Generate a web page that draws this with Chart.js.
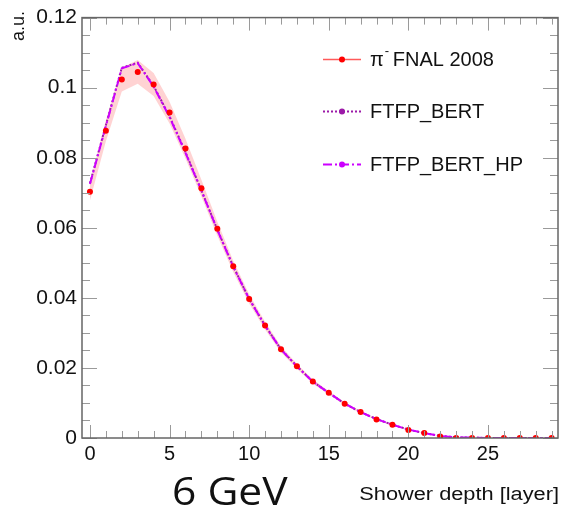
<!DOCTYPE html>
<html><head><meta charset="utf-8">
<script src="https://cdn.jsdelivr.net/npm/chart.js@4.4.1/dist/chart.umd.min.js"></script>
<style>html,body{margin:0;padding:0;background:#fff}canvas{display:block}</style>
</head><body>
<canvas id="c" width="562" height="512"></canvas>
<script>
// ---- data ----
const layers = [0,1,2,3,4,5,6,7,8,9,10,11,12,13,14,15,16,17,18,19,20,21,22,23,24,25,26,27,28,29];
const fnal2008 = [0.0703,0.0877,0.1023,0.1045,0.1009,0.0929,0.0826,0.0713,0.0597,0.0490,0.0397,0.0321,0.0253,0.0205,0.0161,0.0129,0.0098,0.0074,0.0053,0.0038,0.0023,0.0014,0.0004,0,0,0,0,0,0,0];
const fnalErr  = [0.0025,0.0030,0.0034,0.0034,0.0033,0.0031,0.0028,0.0024,0.0020,0.0016,0.0013,0.0011,0.0009,0.0007,0.0006,0.0005,0.0004,0.0003,0.0002,0.0002,0.0001,0.0001,0,0,0,0,0,0,0,0];
const ftfpBert   = [0.0727,0.0893,0.1057,0.1071,0.1005,0.0918,0.0816,0.0707,0.0595,0.0490,0.0397,0.0321,0.0253,0.0205,0.0161,0.0129,0.0098,0.0074,0.0054,0.0038,0.0024,0.0014,0.0006,0.0002,0.0001,0,0,0,0,0];
const ftfpBertHp = [0.0725,0.0890,0.1055,0.1070,0.1003,0.0916,0.0814,0.0706,0.0594,0.0489,0.0397,0.0320,0.0253,0.0204,0.0161,0.0129,0.0098,0.0074,0.0054,0.0038,0.0024,0.0014,0.0006,0.0002,0.0001,0,0,0,0,0];
const xTickValues = [0,5,10,15,20,25];
const yTickValues = [0,0.02,0.04,0.06,0.08,0.1,0.12];
const seriesNames = ['FNAL 2008','FTFP_BERT','FTFP_BERT_HP'];
const xTitle = 'Shower depth [layer]';
const yTitle = 'a.u.';
const energyLabel = '6 GeV';

const pts = arr => layers.map((l,i)=>({x:l, y:arr[i]}));

const frame = {
  id:'frame',
  afterDatasetsDraw(chart){
    const {ctx, chartArea:a, scales:{x,y}} = chart;
    ctx.save();
    ctx.strokeStyle='#9a9a9a'; ctx.lineWidth=1;
    ctx.beginPath();
    for (let v=0; v<=29; v++){
      const px=Math.round(x.getPixelForValue(v))+0.5; const L=(v%5===0)?13:7;
      ctx.moveTo(px,a.bottom); ctx.lineTo(px,a.bottom-L);
      ctx.moveTo(px,a.top); ctx.lineTo(px,a.top+L);
    }
    for (let i=0;i<=24;i++){
      const py=Math.round(y.getPixelForValue(i*0.005))+0.5; const L=(i%4===0)?15:8;
      ctx.moveTo(a.left,py); ctx.lineTo(a.left+L,py);
      ctx.moveTo(a.right,py); ctx.lineTo(a.right-L,py);
    }
    ctx.stroke();
    ctx.strokeStyle='#666'; ctx.lineWidth=1.5;
    ctx.strokeRect(a.left,a.top,a.right-a.left,a.bottom-a.top);
    ctx.restore();
  },
  afterDraw(chart){
    const ctx=chart.ctx; const ds=chart.data.datasets;
    ctx.save();
    ctx.shadowColor='transparent'; ctx.shadowBlur=0; ctx.globalAlpha=1;
    // legend
    const rows=[59,111,164]; const lx0=323, lx1=361, tx=370;
    const entries=[ds[4],ds[2],ds[3]];
    entries.forEach((d,i)=>{
      const yy=rows[i];
      ctx.save();
      ctx.lineCap='butt';
      ctx.strokeStyle = i===0 ? 'rgb(255,90,90)' : d.borderColor;
      ctx.lineWidth = i===0 ? 1.5 : 2;
      ctx.setLineDash(i===0 ? [] : d.borderDash);
      ctx.beginPath(); ctx.moveTo(lx0,yy+0.5); ctx.lineTo(lx1,yy+0.5); ctx.stroke();
      ctx.setLineDash([]);
      ctx.fillStyle = i===0 ? '#ff0000' : d.borderColor;
      ctx.beginPath(); ctx.arc((lx0+lx1)/2,yy+0.5,3,0,Math.PI*2); ctx.fill();
      ctx.restore();
      ctx.fillStyle='#111'; ctx.textBaseline='middle'; ctx.textAlign='left';
      ctx.font='20px "Liberation Sans", Arial, sans-serif';
      if(i===0){
        ctx.fillText('π',tx,yy+1);
        const w=ctx.measureText('π').width;
        ctx.font='13px "Liberation Sans", Arial, sans-serif';
        ctx.fillText('-',tx+w+1,yy-8);
        ctx.font='20px "Liberation Sans", Arial, sans-serif';
        ctx.fillText(seriesNames[0],tx+w+9,yy+1);
      } else {
        ctx.fillText(seriesNames[i],tx,yy+1);
      }
    });
    // axis title x
    ctx.fillStyle='#111';
    ctx.save();
    ctx.font='18px "Liberation Sans", Arial, sans-serif';
    ctx.textAlign='right'; ctx.textBaseline='alphabetic';
    ctx.translate(559,500); ctx.scale(1.21,1);
    ctx.fillText(xTitle,0,0);
    ctx.restore();
    // axis title y
    ctx.save();
    ctx.font='18px "Liberation Sans", Arial, sans-serif';
    ctx.translate(24,11); ctx.rotate(-Math.PI/2);
    ctx.textAlign='right'; ctx.textBaseline='alphabetic';
    ctx.fillText(yTitle,0,0);
    ctx.restore();
    // energy
    ctx.save();
    ctx.font='38px "Open Sans", "Noto Sans", sans-serif';
    ctx.textAlign='left'; ctx.textBaseline='alphabetic';
    ctx.translate(172,505); ctx.scale(1.12,1);
    ctx.fillText(energyLabel,0,0);
    ctx.restore();
    ctx.restore();
  }
};

new Chart(document.getElementById('c'), {
  type:'line',
  data:{ datasets:[
    {label:'band+', data:pts(fnal2008).map((p,i)=>({x:p.x,y:p.y+fnalErr[i]})), borderWidth:0, pointRadius:0, fill:false, order:6},
    {label:'band-', data:pts(fnal2008).map((p,i)=>({x:p.x,y:p.y-fnalErr[i]})), borderWidth:0, pointRadius:0, fill:'-1', backgroundColor:'rgba(255,150,150,0.42)', order:5},
    {label:seriesNames[1], data:pts(ftfpBert), borderColor:'#9c1aa8', borderWidth:2, borderDash:[2,2], pointRadius:0, fill:false, order:2},
    {label:seriesNames[2], data:pts(ftfpBertHp), borderColor:'#cc00ff', borderWidth:2, borderDash:[9,3,2,3], pointRadius:0, fill:false, order:1},
    {label:seriesNames[0], data:pts(fnal2008), showLine:false, borderColor:'#ff0000', backgroundColor:'#ff0000', pointRadius:3, pointBorderWidth:0, order:0}
  ]},
  options:{
    responsive:false, animation:false, devicePixelRatio:1,
    layout:{padding:{left:0,top:13,right:2,bottom:0}},
    plugins:{legend:{display:false}, tooltip:{enabled:false}},
    scales:{
      x:{type:'linear', min:-0.5, max:29.4,
         grid:{display:false, drawTicks:false}, border:{display:false},
         ticks:{font:{family:'"Liberation Sans", Arial, sans-serif', size:20}, color:'#111', padding:4, maxRotation:0},
         afterBuildTicks:s=>{s.ticks=xTickValues.map(v=>({value:v}));},
         afterFit:s=>{s.height=74;}},
      y:{type:'linear', min:0, max:0.12,
         grid:{display:false, drawTicks:false}, border:{display:false},
         ticks:{font:{family:'"Liberation Sans", Arial, sans-serif', size:21}, color:'#111', padding:5,
                callback:v=>String(+(+v).toFixed(3))},
         afterBuildTicks:s=>{s.ticks=yTickValues.map(v=>({value:v}));},
         afterFit:s=>{s.width=82;}}
    }
  },
  plugins:[frame]
});
</script>
</body></html>
